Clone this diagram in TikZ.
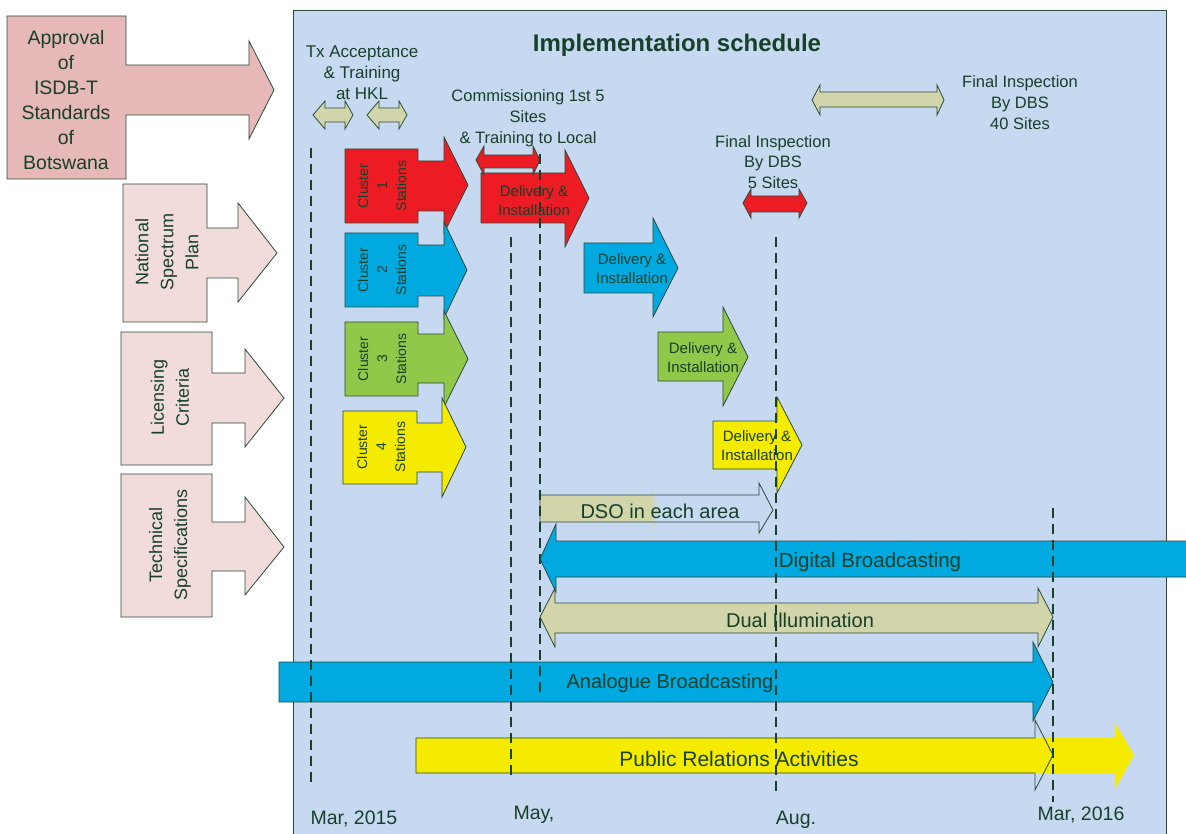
\documentclass[tikz,border=0pt]{standalone}
\usepackage{fontspec}
\setmainfont{Liberation Sans}
\definecolor{panel}{HTML}{C6D9F0}
\definecolor{textc}{HTML}{17402A}
\definecolor{linec}{HTML}{2A4A3A}
\definecolor{pinkA}{HTML}{E6B9B8}
\definecolor{pinkB}{HTML}{F2DCDB}
\definecolor{redc}{HTML}{ED1C24}
\definecolor{bluec}{HTML}{00AAE0}
\definecolor{greenc}{HTML}{92C84A}
\definecolor{yellowc}{HTML}{F5EB00}
\definecolor{khaki}{HTML}{D2D4AA}
\begin{document}
\begin{tikzpicture}[x=1pt,y=-1pt,
  txt/.style={text=textc, inner sep=0pt, align=center},
  outl/.style={draw=linec, line width=0.8pt, line join=miter},
  vline/.style={draw=textc, line width=2.3pt, dash pattern=on 10pt off 6pt}]
\useasboundingbox (0,0) rectangle (1186,834);
% panel
\fill[panel] (293,10) rectangle (1166,840);
\draw[linec, line width=0.8pt] (293,840) -- (293,10) -- (1166,10) -- (1166,840);
% left input arrows
\filldraw[fill=pinkA, outl] (7,16) -- (126,16) -- (126,65) -- (249,65) -- (249,41) -- (274,90) -- (249,139) -- (249,115) -- (126,115) -- (126,179) -- (7,179) -- cycle;
\node[txt, font=\fontsize{19.5}{25}\selectfont] (approval) at (66,100) {Approval\\of\\ISDB-T\\Standards\\of\\Botswana};
\filldraw[fill=pinkB, outl] (123,184) -- (207,184) -- (207,228) -- (238,228) -- (238,203) -- (277,253) -- (238,302) -- (238,278) -- (207,278) -- (207,322) -- (123,322) -- cycle;
\node[txt, rotate=90, font=\fontsize{18}{25}\selectfont] (nsp) at (167,252) {National\\Spectrum\\Plan};
\filldraw[fill=pinkB, outl] (121,332) -- (212,332) -- (212,373) -- (245,373) -- (245,349) -- (284,398) -- (245,447) -- (245,423) -- (212,423) -- (212,465) -- (121,465) -- cycle;
\node[txt, rotate=90, font=\fontsize{18}{25}\selectfont] (lic) at (170,397) {Licensing\\Criteria};
\filldraw[fill=pinkB, outl] (121,474) -- (212,474) -- (212,522) -- (245,522) -- (245,497) -- (284,547) -- (245,595) -- (245,571) -- (212,571) -- (212,617) -- (121,617) -- cycle;
\node[txt, rotate=90, font=\fontsize{18}{25}\selectfont] (tech) at (170,545) {Technical\\Specifications};
% title
\node[txt, font=\fontsize{24}{28}\selectfont\bfseries] (title) at (677,45) {Implementation schedule};
% Tx acceptance
\node[txt, font=\fontsize{17}{21}\selectfont] (tx) at (362,73) {Tx Acceptance\\\& Training\\at HKL};
\filldraw[fill=khaki, outl] (313,115) -- (325,101) -- (325,108) -- (345,108) -- (345,101) -- (353,115) -- (345,129) -- (345,122) -- (325,122) -- (325,129) -- cycle;
\filldraw[fill=khaki, outl] (367,115) -- (379,101) -- (379,108) -- (399,108) -- (399,101) -- (407,115) -- (399,129) -- (399,122) -- (379,122) -- (379,129) -- cycle;
% commissioning
\node[txt, font=\fontsize{16.5}{21}\selectfont] (comm) at (528,118) {Commissioning 1st 5\\Sites\\\& Training to Local};
% clusters
\filldraw[fill=redc, outl] (345,149) -- (418,149) -- (418,161) -- (444,161) -- (444,137) -- (468,185) -- (444,233) -- (444,211) -- (418,211) -- (418,223) -- (345,223) -- cycle;
\filldraw[fill=bluec, outl] (345,233) -- (418,233) -- (418,245) -- (444,245) -- (444,222) -- (467,270) -- (444,318) -- (444,296) -- (418,296) -- (418,307) -- (345,307) -- cycle;
\filldraw[fill=greenc, outl] (345,322) -- (418,322) -- (418,334) -- (444,334) -- (444,311) -- (468,359) -- (444,407) -- (444,383) -- (418,383) -- (418,396) -- (345,396) -- cycle;
\filldraw[fill=yellowc, outl] (343,411) -- (417,411) -- (417,423) -- (442,423) -- (442,398) -- (466,447) -- (442,497) -- (442,472) -- (417,472) -- (417,484) -- (343,484) -- cycle;
\node[txt, rotate=90, font=\fontsize{14}{19}\selectfont] (c1) at (382,186) {Cluster\\1\\Stations};
\node[txt, rotate=90, font=\fontsize{14}{19}\selectfont] (c2) at (382,270) {Cluster\\2\\Stations};
\node[txt, rotate=90, font=\fontsize{14}{19}\selectfont] (c3) at (382,359) {Cluster\\3\\Stations};
\node[txt, rotate=90, font=\fontsize{14}{19}\selectfont] (c4) at (381,447) {Cluster\\4\\Stations};
% delivery arrows
\filldraw[fill=redc, outl] (481,173) -- (565,173) -- (565,150) -- (589,198) -- (565,247) -- (565,223) -- (481,223) -- cycle;
\filldraw[fill=redc, outl] (476,160) -- (484,146) -- (484,155) -- (533,155) -- (533,146) -- (540,160) -- (533,175) -- (533,168) -- (484,168) -- (484,175) -- cycle;
\node[txt, font=\fontsize{15}{19}\selectfont] (d1) at (534,201) {Delivery \&\\Installation};
\filldraw[fill=bluec, outl] (584,243) -- (653,243) -- (653,218) -- (678,268) -- (653,317) -- (653,293) -- (584,293) -- cycle;
\node[txt, font=\fontsize{15}{19}\selectfont] (d2) at (632,269) {Delivery \&\\Installation};
\filldraw[fill=greenc, outl] (658,332) -- (723,332) -- (723,307) -- (748,357) -- (723,406) -- (723,381) -- (658,381) -- cycle;
\node[txt, font=\fontsize{15}{19}\selectfont] (d3) at (703,358) {Delivery \&\\Installation};
\filldraw[fill=yellowc, outl] (713,421) -- (777,421) -- (777,397) -- (802,445) -- (777,493) -- (777,469) -- (713,469) -- cycle;
\node[txt, font=\fontsize{15}{19}\selectfont] (d4) at (757,446) {Delivery \&\\Installation};
% final inspection
\node[txt, font=\fontsize{16.5}{20.5}\selectfont] (fi5) at (773,162) {Final Inspection\\By DBS\\5 Sites};
\filldraw[fill=redc, outl] (743,203) -- (751,189) -- (751,196) -- (799,196) -- (799,189) -- (807,203) -- (799,218) -- (799,212) -- (751,212) -- (751,218) -- cycle;
\filldraw[fill=khaki, outl] (812,100) -- (820,85) -- (820,92) -- (937,92) -- (937,85) -- (944,100) -- (937,115) -- (937,107) -- (820,107) -- (820,115) -- cycle;
\node[txt, font=\fontsize{16.5}{21}\selectfont] (fi40) at (1020,103) {Final Inspection\\By DBS\\40 Sites};
% DSO
\fill[khaki] (540,495) rectangle (652,522);
\fill[khaki, opacity=0.5] (652,487) -- (660,510) -- (652,533) -- cycle;
\draw[outl] (540,495) -- (759,495) -- (759,483) -- (773,510) -- (759,533) -- (759,522) -- (540,522) -- cycle;
\node[txt, font=\fontsize{20}{24}\selectfont] (dso) at (660,511) {DSO in each area};
% digital broadcasting
\filldraw[fill=bluec, outl] (1192,541) -- (556,541) -- (556,524) -- (540,559) -- (556,592) -- (556,577) -- (1192,577);
\node[txt, font=\fontsize{20.5}{24}\selectfont] (digital) at (870,562) {Digital Broadcasting};
% dual illumination
\filldraw[fill=khaki, outl] (540,617) -- (555,588) -- (555,603) -- (1038,603) -- (1038,588) -- (1053,617) -- (1038,647) -- (1038,633) -- (555,633) -- (555,647) -- cycle;
\node[txt, font=\fontsize{20}{24}\selectfont] (dual) at (800,620) {Dual Illumination};
% analogue
\filldraw[fill=bluec, outl] (279,662) -- (1033,662) -- (1033,642) -- (1053,682) -- (1033,721) -- (1033,702) -- (279,702) -- cycle;
\node[txt, font=\fontsize{20}{24}\selectfont] (analogue) at (670,683) {Analogue Broadcasting};
% public relations
\fill[yellowc] (416,738) -- (1115,738) -- (1115,723) -- (1134,755) -- (1115,789) -- (1115,773) -- (416,773) -- cycle;
\draw[outl] (416,738) -- (1035,738) -- (1035,720) -- (1053,755) -- (1035,790) -- (1035,773) -- (416,773) -- cycle;
\node[txt, font=\fontsize{21}{24}\selectfont] (pr) at (739,759) {Public Relations Activities};
% dashed time lines
\coordinate (m1a) at (311,148); \coordinate (m1b) at (311,785);
\coordinate (m2a) at (511,237); \coordinate (m2b) at (511,780);
\coordinate (m3a) at (540,154); \coordinate (m3b) at (540,697);
\coordinate (m4a) at (776,237); \coordinate (m4b) at (776,791);
\coordinate (m5a) at (1053,508); \coordinate (m5b) at (1053,802);
\draw[vline] (m1a) -- (m1b);
\draw[vline] (m2a) -- (m2b);
\draw[vline] (m3a) -- (m3b);
\draw[vline] (m4a) -- (m4b);
\draw[vline] (m5a) -- (m5b);
% dates
\node[txt, font=\fontsize{19.5}{22}\selectfont] (mar15) at (354,819) {Mar, 2015};
\node[txt, font=\fontsize{19.5}{22}\selectfont] (may) at (534,815) {May,};
\node[txt, font=\fontsize{19.5}{22}\selectfont] (aug) at (796,820) {Aug.};
\node[txt, font=\fontsize{19.5}{22}\selectfont] (mar16) at (1081,815) {Mar, 2016};
\end{tikzpicture}
\end{document}
